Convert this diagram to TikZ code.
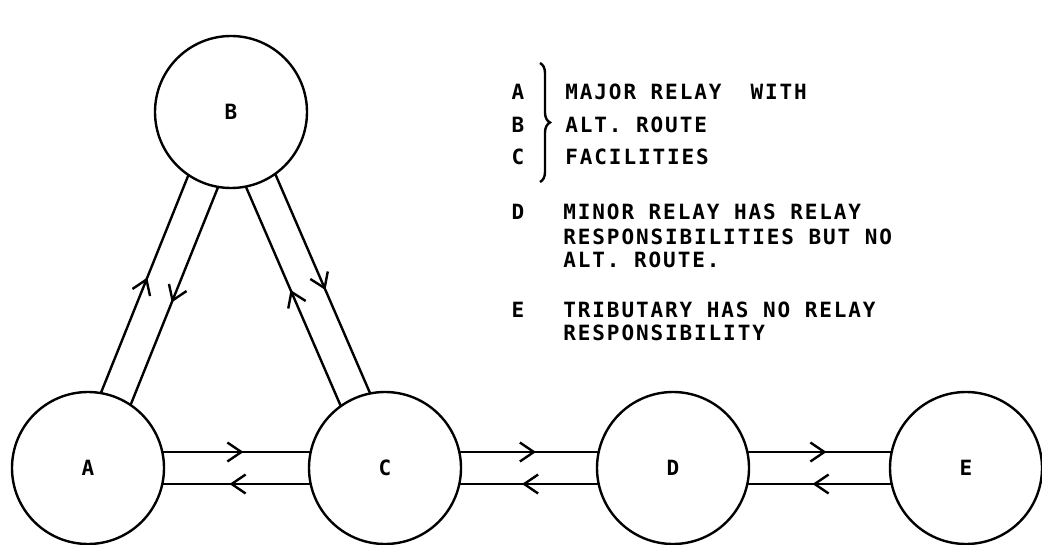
\documentclass[tikz,border=0pt]{standalone}
\usepackage{fontspec}
\setmainfont{DejaVu Sans Mono}[LetterSpace=9]
\usetikzlibrary{arrows.meta,decorations.markings,decorations.pathreplacing,backgrounds,calc}

\begin{document}
\begin{tikzpicture}[x=0.5pt, y=-0.5pt,
    station/.style={circle, draw, line width=1.2pt, fill=white, inner sep=0pt, minimum size=76pt,
        font=\fontsize{10.5pt}{12pt}\selectfont\bfseries},
    lettering/.style={font=\fontsize{10.5pt}{12pt}\selectfont\bfseries, inner sep=0pt},
    legend/.style={lettering, anchor=west},
    link/.style={line width=1.2pt, postaction=decorate, decoration={markings,
        mark=at position 0.5 with {\pgftransformxshift{3.5pt}\arrow{Straight Barb[length=7pt,width=9.5pt]}}}}]

    \useasboundingbox (0,0) rectangle (1042,545);

    % relay stations
    \node[station] (A) at (88,468) {A};
    \node[station] (B) at (231,112) {B};
    \node[station] (C) at (385,468) {C};
    \node[station] (D) at (673,468) {D};
    \node[station] (E) at (966,468) {E};

    % two-way links, one line each way
    \begin{scope}[on background layer]
        \foreach \from/\to in {A/B, C/B, A/C, C/D, D/E}
        {
            \draw[link] ($(\from)!8pt!90:(\to)$) -- ($(\to)!8pt!-90:(\from)$);
            \draw[link] ($(\to)!8pt!90:(\from)$) -- ($(\from)!8pt!-90:(\to)$);
        }
    \end{scope}

    % legend
    \node[lettering] (keyA) at (518,92) {A};
    \node[lettering] (keyB) at (518,125) {B};
    \node[lettering] (keyC) at (518,157) {C};
    \draw[line width=1.2pt, decorate, decoration={brace, amplitude=5pt}] (540,63) -- (540,182);
    \node[legend] (major1) at (565,92) {MAJOR RELAY~ WITH};
    \node[legend] (major2) at (565,125) {ALT. ROUTE};
    \node[legend] (major3) at (565,157) {FACILITIES};

    \node[lettering] (keyD) at (518,212) {D};
    \node[legend] (minor1) at (563,212) {MINOR RELAY HAS RELAY};
    \node[legend] (minor2) at (563,237) {RESPONSIBILITIES BUT NO};
    \node[legend] (minor3) at (563,260) {ALT. ROUTE.};

    \node[lettering] (keyE) at (518,310) {E};
    \node[legend] (trib1) at (563,310) {TRIBUTARY HAS NO RELAY};
    \node[legend] (trib2) at (563,333) {RESPONSIBILITY};
\end{tikzpicture}
\end{document}
